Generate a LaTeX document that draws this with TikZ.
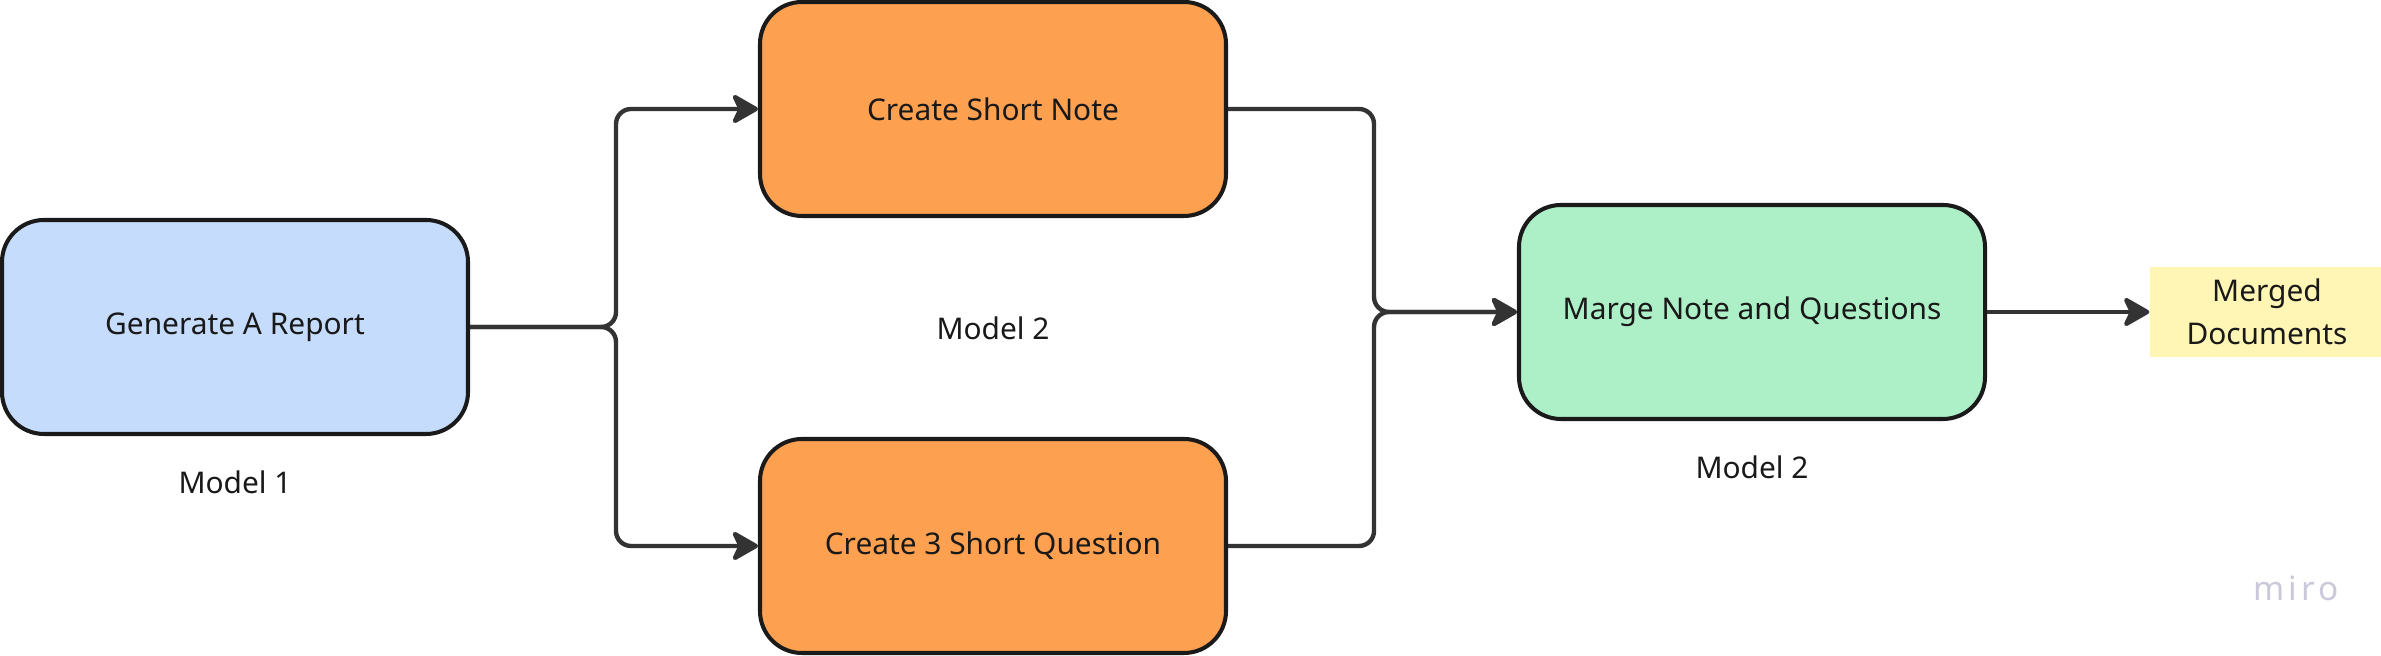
\documentclass[tikz,border=0pt]{standalone}
\usepackage{fontspec}
\setmainfont{Noto Sans}
\usetikzlibrary{arrows.meta, positioning}

\definecolor{repblue}{HTML}{C6DCFC}
\definecolor{taskorange}{HTML}{FDA050}
\definecolor{mergegreen}{HTML}{ADF0C7}
\definecolor{docyellow}{HTML}{FFF5B5}
\definecolor{edgegray}{HTML}{1A1A1A}
\definecolor{linegray}{HTML}{333333}
\definecolor{logogray}{HTML}{C9C9D9}

\begin{document}
\begin{tikzpicture}[
      every node/.style={font=\fontsize{8.5}{11}\selectfont, text=black!90},
      box/.style={rectangle, draw=edgegray, line width=1.15pt, rounded corners=0.42cm, minimum width=4.66cm, minimum height=2.14cm},
      doc/.style={rectangle, fill=docyellow, minimum width=2.34cm, minimum height=0.86cm, align=center, font=\fontsize{8.5}{12.2}\selectfont},
      conn/.style={draw=linegray, line width=1.25pt, rounded corners=0.15cm, -{Stealth[length=0.3cm, width=0.34cm, inset=0.08cm, round]}}]

      \useasboundingbox (0,0) rectangle (23.81,6.56);

      % Boxes
      \node[box, fill=repblue] (report) at (2.35,3.29) {Generate A Report};
      \node[box, fill=taskorange] (note) at (9.93,5.47) {Create Short Note};
      \node[box, fill=taskorange] (quest) at (9.93,1.10) {Create 3 Short Question};
      \node[box, fill=mergegreen] (merge) at (17.52,3.44) {Marge Note and Questions};
      \node[doc] (docs) at (22.67,3.44) {Merged\\Documents};

      % Model labels
      \node (m1) at ([yshift=-0.46cm]report.south) {Model 1};
      \node (m2) at (9.93,3.28) {Model 2};
      \node (m3) at ([yshift=-0.46cm]merge.south) {Model 2};

      % Arrows
      \draw[conn] (report.east) -- ++(1.46,0) |- (note.west);
      \draw[conn] (report.east) -- ++(1.46,0) |- (quest.west);
      \draw[conn] (note.east) -- ++(1.46,0) |- (merge.west);
      \draw[conn] (quest.east) -- ++(1.46,0) |- (merge.west);
      \draw[conn] (merge.east) -- (docs.west);

      % Watermark
      \node[text=logogray, font=\fontsize{9.5}{11}\selectfont\addfontfeature{LetterSpace=12}] (logo) at (22.96,0.68) {miro};
    \end{tikzpicture}
\end{document}
